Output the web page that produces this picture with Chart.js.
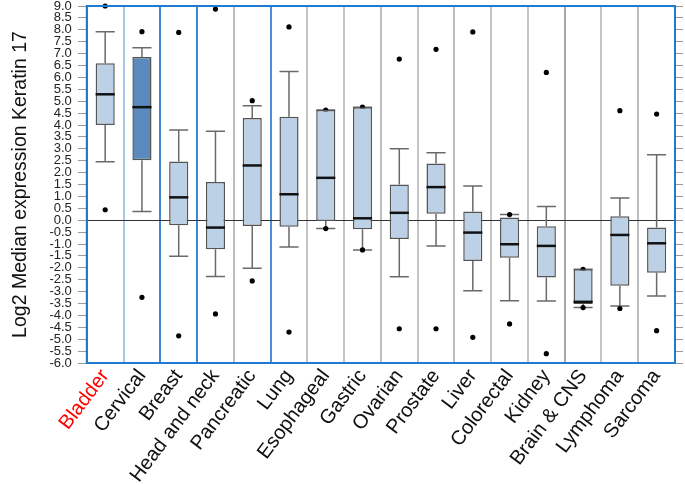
<!DOCTYPE html>
<html>
<head>
<meta charset="utf-8">
<script src="https://cdn.jsdelivr.net/npm/chart.js@4/dist/chart.umd.min.js"></script>
<style>
  html, body { margin: 0; padding: 0; background: #fff; }
  #wrap { width: 685px; height: 485px; }
</style>
</head>
<body>
<div id="wrap"><canvas id="c"></canvas></div>
<script>
// Keratin 17 box plots per cancer type (log2 median expression)

const categories = ['Bladder', 'Cervical', 'Breast', 'Head and neck', 'Pancreatic', 'Lung',
  'Esophageal', 'Gastric', 'Ovarian', 'Prostate', 'Liver', 'Colorectal', 'Kidney',
  'Brain & CNS', 'Lymphoma', 'Sarcoma'];

const whiskerLow  = [2.46, 0.37, -1.51, -2.37, -2.02, -1.13, -0.35, -1.25, -2.38, -1.08, -2.96, -3.38, -3.39, -3.67, -3.60, -3.18];
const q1          = [4.00, 2.52, -0.21, -1.22, -0.24, -0.27, -0.03, -0.38, -0.79, 0.27, -1.71, -1.58, -2.41, -3.52, -2.75, -2.21];
const medians     = [5.29, 4.75, 0.96, -0.31, 2.30, 1.09, 1.78, 0.08, 0.31, 1.39, -0.52, -1.01, -1.08, -3.43, -0.62, -0.97];
const q3          = [6.59, 6.86, 2.47, 1.61, 4.29, 4.35, 4.63, 4.75, 1.50, 2.38, 0.37, 0.11, -0.25, -2.06, 0.17, -0.31];
const whiskerHigh = [7.92, 7.25, 3.79, 3.74, 4.81, 6.25, 4.63, 4.75, 3.00, 2.83, 1.44, 0.24, 0.58, -2.06, 0.93, 2.75];
const outlierHigh = [9.00, 7.92, 7.89, 8.87, 5.02, 8.12, 4.63, 4.75, 6.77, 7.18, 7.91, 0.24, 6.21, -2.06, 4.60, 4.46];
const outlierLow  = [0.44, -3.24, -4.86, -3.94, -2.55, -4.70, -0.35, -1.25, -4.56, -4.56, -4.92, -4.36, -5.61, -3.67, -3.71, -4.64];

const yMin = -6, yMax = 9, yStep = 0.5;

const dividerColours = ['#1f7bd0', '#a9c8e8', '#3f88d2', '#3f88d2', '#bdbdbd', '#4a8dd3',
  '#c4c4c4', '#c4c4c4', '#bdbdbd', '#c4c4c4', '#bdbdbd', '#c4c4c4', '#c4c4c4', '#a8a8a8',
  '#c4c4c4', '#bdbdbd', '#1f7bd0'];

const boxPlot = {
  id: 'boxPlot',
  beforeDatasetsDraw(chart) {
    const { ctx, chartArea, scales } = chart;
    const y = scales.y;
    // zero reference line
    ctx.save();
    ctx.strokeStyle = '#333';
    ctx.lineWidth = 1;
    const y0 = Math.round(y.getPixelForValue(0)) + 0.5;
    ctx.beginPath();
    ctx.moveTo(chartArea.left, y0);
    ctx.lineTo(chartArea.right, y0);
    ctx.stroke();
    // whiskers
    const bars = chart.getDatasetMeta(0).data;
    ctx.strokeStyle = '#6a6a6a';
    ctx.lineWidth = 1.5;
    bars.forEach((bar, i) => {
      const half = bar.width / 2;
      const yh = y.getPixelForValue(whiskerHigh[i]);
      const yl = y.getPixelForValue(whiskerLow[i]);
      ctx.beginPath();
      ctx.moveTo(bar.x, yh); ctx.lineTo(bar.x, y.getPixelForValue(q3[i]));
      ctx.moveTo(bar.x, y.getPixelForValue(q1[i])); ctx.lineTo(bar.x, yl);
      ctx.moveTo(bar.x - half, yh); ctx.lineTo(bar.x + half, yh);
      ctx.moveTo(bar.x - half, yl); ctx.lineTo(bar.x + half, yl);
      ctx.stroke();
    });
    ctx.restore();
  },
  afterDatasetDraw(chart, args) {
    if (args.index !== 0) return;
    const { ctx, scales } = chart;
    const bars = chart.getDatasetMeta(0).data;
    ctx.save();
    ctx.strokeStyle = '#111';
    ctx.lineWidth = 2.5;
    bars.forEach((bar, i) => {
      const ym = scales.y.getPixelForValue(medians[i]);
      ctx.beginPath();
      ctx.moveTo(bar.x - bar.width / 2, ym);
      ctx.lineTo(bar.x + bar.width / 2, ym);
      ctx.stroke();
    });
    ctx.restore();
  },
  afterDraw(chart) {
    const { ctx, chartArea } = chart;
    ctx.save();
    ctx.strokeStyle = '#1f7bd0';
    ctx.lineWidth = 2;
    ctx.strokeRect(chartArea.left, chartArea.top, chartArea.right - chartArea.left, chartArea.bottom - chartArea.top);
    ctx.restore();
  },
};

new Chart(document.getElementById('c'), {
  type: 'bar',
  data: {
    labels: categories,
    datasets: [
      {
        label: 'IQR',
        data: q1.map((v, i) => [v, q3[i]]),
        backgroundColor: categories.map((c) => (c === 'Cervical' ? '#5b8bbd' : '#bcd1e6')),
        borderColor: '#555',
        borderWidth: 1.5,
        borderSkipped: false,
        barPercentage: 0.52,
        categoryPercentage: 1,
      },
      {
        type: 'line', label: 'high', data: outlierHigh, showLine: false, clip: false,
        pointRadius: 2.6, pointBackgroundColor: '#000', pointBorderWidth: 0,
      },
      {
        type: 'line', label: 'low', data: outlierLow, showLine: false, clip: false,
        pointRadius: 2.6, pointBackgroundColor: '#000', pointBorderWidth: 0,
      },
    ],
  },
  options: {
    responsive: true,
    maintainAspectRatio: false,
    animation: false,
    layout: { padding: { left: 9, right: 2, top: 0, bottom: 0 } },
    plugins: { legend: { display: false }, tooltip: { enabled: false } },
    scales: {
      x: {
        offset: true,
        afterFit: (scale) => { scale.height = 122; },
        grid: {
          offset: true,
          drawTicks: false,
          color: (ctx) => dividerColours[ctx.index] || '#c4c4c4',
          lineWidth: 2,
        },
        border: { display: false },
        ticks: {
          minRotation: 53, maxRotation: 53, autoSkip: false, padding: 2,
          color: (ctx) => (ctx.index === 0 ? '#ff0000' : '#111'),
          font: { family: 'Liberation Sans, Arial, sans-serif', size: 20 },
        },
      },
      y: {
        min: yMin, max: yMax,
        afterFit: (scale) => { scale.paddingTop = 6; },
        grid: { drawOnChartArea: false, drawTicks: true, tickLength: 9, color: '#9a9a9a' },
        border: { color: '#9a9a9a' },
        ticks: {
          stepSize: yStep, autoSkip: false, padding: 6, color: '#222',
          font: { family: 'Liberation Sans, Arial, sans-serif', size: 13 },
          callback: (v) => Number(v).toFixed(1),
        },
        title: {
          display: true, text: 'Log2 Median expression Keratin 17', color: '#111',
          font: { family: 'Liberation Sans, Arial, sans-serif', size: 19.5 },
          padding: { top: 0, bottom: 11 },
        },
      },
      y2: {
        position: 'right', min: yMin, max: yMax,
        afterFit: (scale) => { scale.paddingTop = 6; },
        grid: { drawOnChartArea: false, drawTicks: true, tickLength: 8, color: '#9a9a9a' },
        border: { display: false },
        ticks: { stepSize: yStep, display: false },
      },
    },
  },
  plugins: [boxPlot],
});
</script>
</body>
</html>
